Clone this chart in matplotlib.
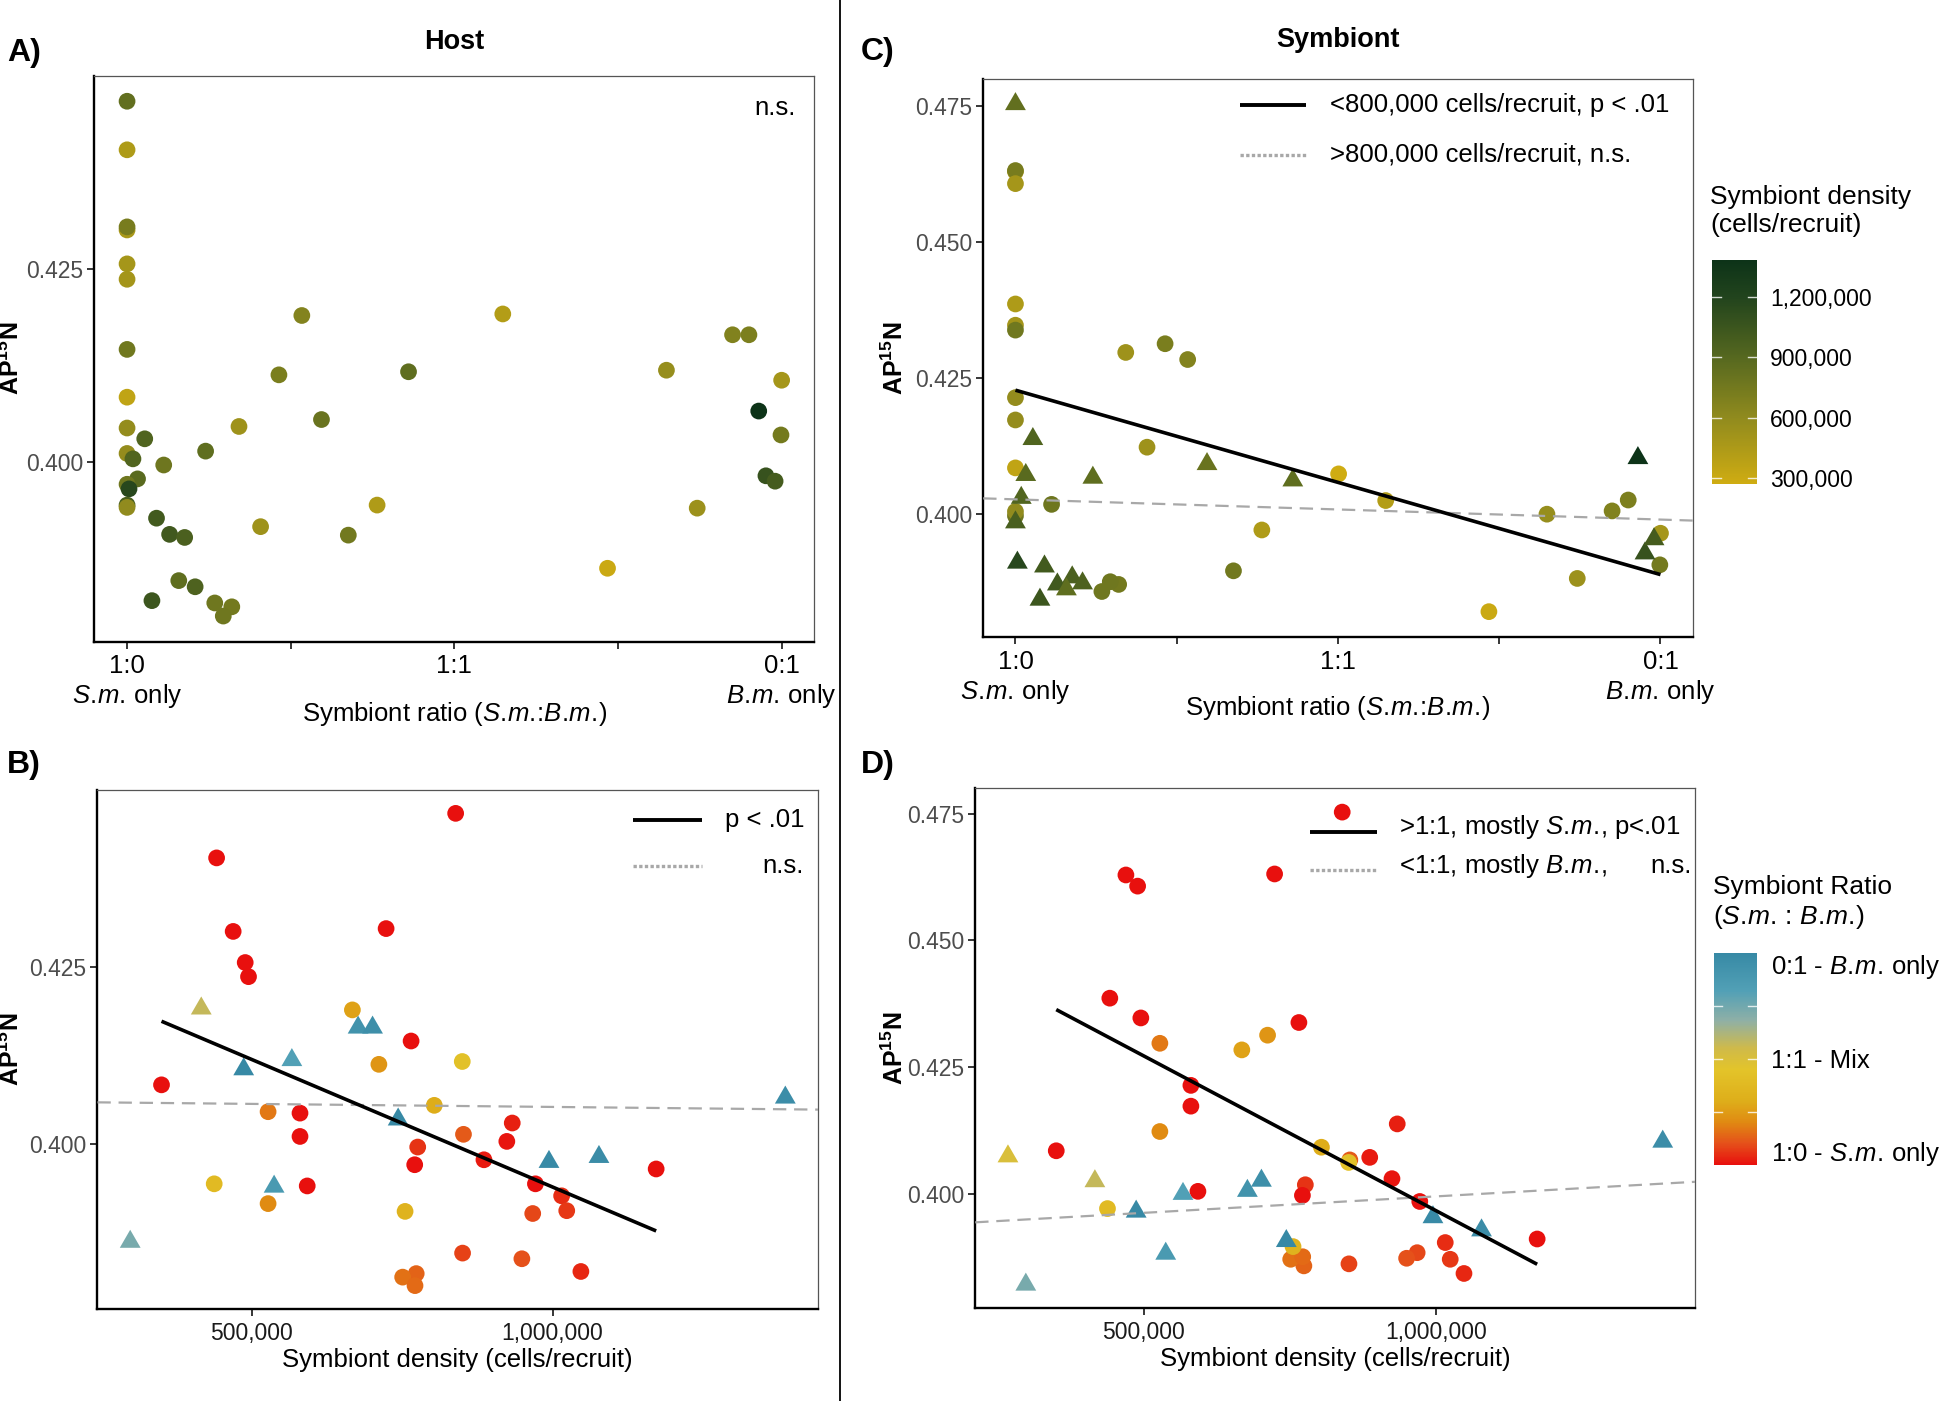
import numpy as np
import matplotlib
matplotlib.use("Agg")
import matplotlib.pyplot as plt
from matplotlib.colors import LinearSegmentedColormap, Normalize
from matplotlib.cm import ScalarMappable
from matplotlib.path import Path

plt.rcParams['font.family'] = ['Liberation Sans', 'DejaVu Sans']
plt.rcParams['mathtext.fontset'] = 'custom'
plt.rcParams['mathtext.rm'] = 'Liberation Sans'
plt.rcParams['mathtext.it'] = 'Liberation Sans:italic'
plt.rcParams['mathtext.bf'] = 'Liberation Sans:bold'

# one entry per recruit
# ratio = share of B.m. (0 -> 1:0 S.m. only, 1 -> 0:1 B.m. only)
ratio = np.array([0, 0, 0, 0, 0, 0, 0, 0, 0, 0,
                  0.009, 0.027, 0.056, 0.016, 0, 0.003, 0, 0, 0.045, 0.065,
                  0.088, 0.120, 0.038, 0.079, 0.104, 0.134, 0.160, 0.147, 0.171, 0.204,
                  0.232, 0.267, 0.297, 0.338, 0.382, 0.430, 0.574, 0.734, 0.824, 0.871,
                  0.925, 0.950, 1.0, 0.965, 0.999, 0.976, 0.990, 0.501])
# cells per recruit
density = np.array([839, 442, 469.5, 723.5, 489.5, 495, 765, 350.5, 580.5, 580.5,
                    924, 933, 776, 886, 771, 1172, 971.5, 592.5, 1015, 1023.5,
                    967, 852, 1047, 850.5, 949, 773.5, 751, 771.5, 527.5, 527.5,
                    711.5, 667.5, 803.5, 755, 438, 850, 416.5, 298.5, 567, 537.5,
                    677, 701, 487, 1386.5, 743.5, 1077, 994, 268]) * 1000
host_ap = np.array([0.4468, 0.4405, 0.4301, 0.4305, 0.4257, 0.4237, 0.4146, 0.4084, 0.4044, 0.4011,
                    0.4004, 0.4030, 0.3996, 0.3978, 0.3971, 0.3965, 0.3944, 0.3941, 0.3927, 0.3906,
                    0.3902, 0.4014, 0.3820, 0.3846, 0.3838, 0.3817, 0.3812, 0.3800, 0.4046, 0.3916,
                    0.4113, 0.4190, 0.4055, 0.3905, 0.3944, 0.4117, 0.4192, 0.3862, 0.4119, 0.3940,
                    0.4165, 0.4165, 0.4106, 0.4066, 0.4035, 0.3982, 0.3975, np.nan])
sym_ap = np.array([0.4753, 0.4386, 0.4629, 0.4631, 0.4607, 0.4347, 0.4338, 0.4085, 0.4214, 0.4173,
                   0.4030, 0.4138, 0.4018, 0.4072, 0.3997, 0.3911, 0.3985, 0.4005, 0.3904, 0.3871,
                   0.3884, 0.4067, 0.3843, 0.3862, 0.3873, 0.3858, 0.3871, 0.3876, 0.4297, 0.4123,
                   0.4313, 0.4284, 0.4092, 0.3896, 0.3971, 0.4062, 0.4025, 0.3821, 0.4000, 0.3882,
                   0.4006, 0.4026, 0.3965, 0.4103, 0.3907, 0.3928, 0.3954, 0.4074])


def it(s):
    # italic species abbreviation without mathtext's extra space after dots
    return "$\\it{" + s.replace(".", ".\\!") + "}$"


SM = it("S.m.")
BM = it("B.m.")

ratio_ticks = [0, 0.25, 0.5, 0.75, 1]
ratio_labels = ["1:0\n" + SM + " only", "", "1:1", "", "0:1\n" + BM + " only"]
dens_ticks = [500000, 1000000]
dens_labels = ["500,000", "1,000,000"]
host_ticks = [0.400, 0.425]
sym_ticks = [0.400, 0.425, 0.450, 0.475]
cbar_dens_ticks = [300000, 600000, 900000, 1200000]
cbar_dens_labels = ["300,000", "600,000", "900,000", "1,200,000"]
cbar_ratio_marks = [0.25, 0.5, 0.75]
cbar_ratio_pos = [0.07, 0.5, 0.95]
cbar_ratio_labels = ["1:0 - " + SM + " only", "1:1 - Mix", "0:1 - " + BM + " only"]

dens_cmap = LinearSegmentedColormap.from_list(
    "dens", [(0, "#cfac12"), (0.3, "#8f8a1e"), (0.565, "#56681f"), (0.833, "#22441d"), (1, "#0d3318")])
ratio_cmap = LinearSegmentedColormap.from_list(
    "ratio", [(0, "#e8100e"), (0.1, "#e5501a"), (0.2, "#e08a12"), (0.3, "#deae1a"), (0.45, "#e3c42a"),
              (0.55, "#cfba4a"), (0.68, "#8fb0a6"), (0.82, "#52a0b6"), (1, "#3789a5")])
dnorm = Normalize(np.nanmin(density), np.nanmax(density))
rnorm = Normalize(0, 1)

tri = Path([(-1.0, -0.577), (1.0, -0.577), (0.0, 1.155), (-1.0, -0.577)],
           [Path.MOVETO, Path.LINETO, Path.LINETO, Path.CLOSEPOLY])
CIRC_S = 145
TRI_S = 300
GREY = "#a8a8a8"


def expand(v):
    v = v[~np.isnan(v)]
    lo, hi = v.min(), v.max()
    p = 0.05 * (hi - lo)
    return lo - p, hi + p


def style(ax, xlim, ylim, yticks):
    ax.set_xlim(xlim)
    ax.set_ylim(ylim)
    ax.set_yticks(yticks)
    ax.set_yticklabels(["%.3f" % t for t in yticks])
    for s in ["left", "bottom"]:
        ax.spines[s].set_linewidth(1.7)
        ax.spines[s].set_color("black")
    for s in ["top", "right"]:
        ax.spines[s].set_linewidth(0.9)
        ax.spines[s].set_color("#555555")
    ax.tick_params(direction="out", length=5, width=1.1, color="black")
    ax.tick_params(axis="y", labelsize=16.5, labelcolor="#4d4d4d", pad=3)
    ax.set_ylabel("AP$^{\\mathbf{15}}$N", fontsize=18, fontweight="bold", va="center")


def ratio_axis(ax):
    ax.set_xticks(ratio_ticks)
    ax.set_xticklabels(ratio_labels)
    ax.tick_params(axis="x", labelsize=18.5, labelcolor="black", pad=4)
    ax.set_xlabel("Symbiont ratio (" + SM + ":" + BM + ")", fontsize=18.5, va="center")


def dens_axis(ax):
    ax.set_xticks(dens_ticks)
    ax.set_xticklabels(dens_labels)
    ax.tick_params(axis="x", labelsize=16.5, labelcolor="#1a1a1a", pad=4)
    ax.set_xlabel("Symbiont density (cells/recruit)", fontsize=18.5, va="center")


def fit(ax, x, y, xs, **kw):
    coef = np.polyfit(x, y, 1)
    xs = np.asarray(xs)
    ax.plot(xs, np.polyval(coef, xs), **kw)


solid_kw = dict(color="black", lw=2.6, zorder=4, solid_capstyle="butt")
dash_kw = dict(color=GREY, lw=1.6, dashes=(6, 3.5), zorder=3)

fig = plt.figure(figsize=(19.45, 14.01), dpi=100)
axA = fig.add_axes([0.0485, 0.5419, 0.3702, 0.4042])
axB = fig.add_axes([0.0501, 0.0655, 0.3705, 0.3708])
axC = fig.add_axes([0.5055, 0.5453, 0.3648, 0.3985])
axD = fig.add_axes([0.5014, 0.0662, 0.3703, 0.3710])

has_host = ~np.isnan(host_ap)
sm_mostly = ratio < 0.5
low_dens = density < 800000

# ---- A) host vs ratio
axA.scatter(ratio[has_host], host_ap[has_host], c=density[has_host], cmap=dens_cmap, norm=dnorm,
            s=CIRC_S, marker="o", linewidths=0, zorder=2)
style(axA, expand(ratio), expand(host_ap), host_ticks)
ratio_axis(axA)
axA.xaxis.set_label_coords(0.5, -0.128)
axA.yaxis.set_label_coords(-0.116, 0.5)
axA.text(0.974, 0.943, "n.s.", transform=axA.transAxes, ha="right", va="center", fontsize=18.5)

# ---- B) host vs density
for m, mk, sz in [(has_host & sm_mostly, "o", CIRC_S), (has_host & ~sm_mostly, tri, TRI_S)]:
    axB.scatter(density[m], host_ap[m], c=ratio[m], cmap=ratio_cmap, norm=rnorm,
                s=sz, marker=mk, linewidths=0, zorder=2)
xlimB = expand(density[has_host])
style(axB, xlimB, expand(host_ap), host_ticks)
dens_axis(axB)
m = has_host & sm_mostly
fit(axB, density[m], host_ap[m], [density[m].min(), density[m].max()], **solid_kw)
m = has_host & ~sm_mostly
fit(axB, density[m], host_ap[m], xlimB, **dash_kw)
axB.xaxis.set_label_coords(0.5, -0.097)
axB.yaxis.set_label_coords(-0.1205, 0.5)
axB.plot([0.7437, 0.8386], [0.9417, 0.9417], transform=axB.transAxes, color="black", lw=2.8,
         solid_capstyle="butt", clip_on=False)
axB.plot([0.7437, 0.8386], [0.8537, 0.8537], transform=axB.transAxes, color=GREY, lw=2.4,
         dashes=(1, 0.7), clip_on=False)
axB.text(0.9806, 0.9417, "p < .01", transform=axB.transAxes, ha="right", va="center", fontsize=18.5)
axB.text(0.9806, 0.8537, "n.s.", transform=axB.transAxes, ha="right", va="center", fontsize=18.5)

# ---- C) symbiont vs ratio
for m, mk, sz in [(low_dens, "o", CIRC_S), (~low_dens, tri, TRI_S)]:
    axC.scatter(ratio[m], sym_ap[m], c=density[m], cmap=dens_cmap, norm=dnorm,
                s=sz, marker=mk, linewidths=0, zorder=2)
xlimC = expand(ratio)
style(axC, xlimC, expand(sym_ap), sym_ticks)
ratio_axis(axC)
fit(axC, ratio[low_dens], sym_ap[low_dens], [ratio[low_dens].min(), ratio[low_dens].max()], **solid_kw)
fit(axC, ratio[~low_dens], sym_ap[~low_dens], xlimC, **dash_kw)
axC.xaxis.set_label_coords(0.5, -0.1275)
axC.yaxis.set_label_coords(-0.124, 0.5)
axC.plot([0.3616, 0.4555], [0.9531, 0.9531], transform=axC.transAxes, color="black", lw=2.8,
         solid_capstyle="butt", clip_on=False)
axC.plot([0.3616, 0.4555], [0.8635, 0.8635], transform=axC.transAxes, color=GREY, lw=2.4,
         dashes=(1, 0.7), clip_on=False)
axC.text(0.4889, 0.9531, "<800,000 cells/recruit, p < .01", transform=axC.transAxes,
         ha="left", va="center", fontsize=18.5)
axC.text(0.4889, 0.8635, ">800,000 cells/recruit, n.s.", transform=axC.transAxes,
         ha="left", va="center", fontsize=18.5)

# ---- D) symbiont vs density
for m, mk, sz in [(sm_mostly, "o", CIRC_S), (~sm_mostly, tri, TRI_S)]:
    axD.scatter(density[m], sym_ap[m], c=ratio[m], cmap=ratio_cmap, norm=rnorm,
                s=sz, marker=mk, linewidths=0, zorder=2)
xlimD = expand(density)
style(axD, xlimD, expand(sym_ap), sym_ticks)
dens_axis(axD)
fit(axD, density[sm_mostly], sym_ap[sm_mostly],
    [density[sm_mostly].min(), density[sm_mostly].max()], **solid_kw)
fit(axD, density[~sm_mostly], sym_ap[~sm_mostly], xlimD, **dash_kw)
axD.xaxis.set_label_coords(0.5, -0.0985)
axD.yaxis.set_label_coords(-0.1115, 0.5)
axD.plot([0.4651, 0.5578], [0.9169, 0.9169], transform=axD.transAxes, color="black", lw=2.8,
         solid_capstyle="butt", clip_on=False)
axD.plot([0.4651, 0.5578], [0.8432, 0.8432], transform=axD.transAxes, color=GREY, lw=2.4,
         dashes=(1, 0.7), clip_on=False)
axD.text(0.5879, 0.925, ">1:1, mostly " + SM + ", p<.01", transform=axD.transAxes,
         ha="left", va="center", fontsize=18.5)
axD.text(0.5879, 0.851, "<1:1, mostly " + BM + ",", transform=axD.transAxes,
         ha="left", va="center", fontsize=18.5)
axD.text(0.9951, 0.851, "n.s.", transform=axD.transAxes, ha="right", va="center", fontsize=18.5)

# ---- colour bars
caxC = fig.add_axes([0.8801, 0.6545, 0.0231, 0.1599])
cb = fig.colorbar(ScalarMappable(norm=dnorm, cmap=dens_cmap), cax=caxC, ticks=cbar_dens_ticks)
cb.set_ticklabels(cbar_dens_labels)
cb.outline.set_visible(False)
caxC.tick_params(length=0, pad=9.5, labelsize=16.5)
for t in cbar_dens_ticks:
    for x0, x1 in [(0, 0.2), (0.8, 1)]:
        caxC.plot([x0, x1], [t, t], transform=caxC.get_yaxis_transform(), color="white", lw=1, alpha=0.8)
fig.text(0.8792, 0.8494, "Symbiont density\n(cells/recruit)", ha="left", va="center",
         fontsize=19, linespacing=1.2)

caxD = fig.add_axes([0.8812, 0.1685, 0.0220, 0.1515])
cb2 = fig.colorbar(ScalarMappable(norm=rnorm, cmap=ratio_cmap), cax=caxD, ticks=cbar_ratio_pos)
cb2.set_ticklabels(cbar_ratio_labels)
cb2.outline.set_visible(False)
caxD.tick_params(length=0, pad=10.5, labelsize=18.5)
for t in cbar_ratio_marks:
    for x0, x1 in [(0, 0.2), (0.8, 1)]:
        caxD.plot([x0, x1], [t, t], transform=caxD.get_yaxis_transform(), color="white", lw=1, alpha=0.8)
fig.text(0.8807, 0.3552, "Symbiont Ratio\n(" + SM + " : " + BM + ")", ha="left", va="center",
         fontsize=19, linespacing=1.2)

# ---- titles, panel letters, divider
fig.text(0.2336, 0.9697, "Host", ha="center", va="center", fontsize=19.5, fontweight="bold")
fig.text(0.6879, 0.9714, "Symbiont", ha="center", va="center", fontsize=19.5, fontweight="bold")
for lx, ly, lab in [(0.0036, 0.9622, "A)"), (0.0036, 0.4537, "B)"),
                    (0.4427, 0.963, "C)"), (0.4427, 0.4537, "D)")]:
    fig.text(lx, ly, lab, ha="left", va="center", fontsize=23, fontweight="bold")
fig.add_artist(plt.Line2D([0.4318, 0.4318], [0, 1], transform=fig.transFigure, color="black", lw=1.3))

fig.savefig("out.png", dpi=100)
